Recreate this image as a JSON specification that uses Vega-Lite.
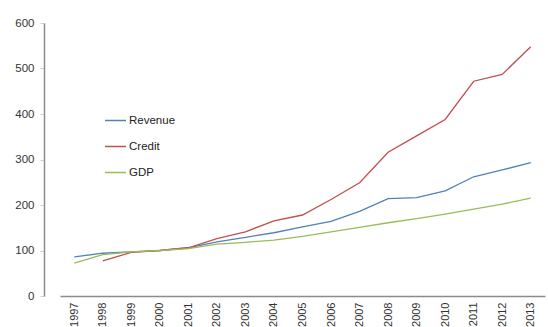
{
  "$schema": "https://vega.github.io/schema/vega-lite/v6.json",
  "width": 504,
  "height": 273,
  "autosize": {"type": "none"},
  "padding": {"left": 44, "top": 23, "right": 0, "bottom": 31},
  "background": "white",
  "config": {
    "view": {"stroke": null},
    "font": "Liberation Sans"
  },
  "data": {
    "values": [
      {"year": "1997", "series": "Revenue", "value": 86},
      {"year": "1998", "series": "Revenue", "value": 94},
      {"year": "1999", "series": "Revenue", "value": 97},
      {"year": "2000", "series": "Revenue", "value": 100},
      {"year": "2001", "series": "Revenue", "value": 106},
      {"year": "2002", "series": "Revenue", "value": 119},
      {"year": "2003", "series": "Revenue", "value": 129},
      {"year": "2004", "series": "Revenue", "value": 139},
      {"year": "2005", "series": "Revenue", "value": 152},
      {"year": "2006", "series": "Revenue", "value": 164},
      {"year": "2007", "series": "Revenue", "value": 186},
      {"year": "2008", "series": "Revenue", "value": 214},
      {"year": "2009", "series": "Revenue", "value": 216},
      {"year": "2010", "series": "Revenue", "value": 231},
      {"year": "2011", "series": "Revenue", "value": 262},
      {"year": "2012", "series": "Revenue", "value": 277},
      {"year": "2013", "series": "Revenue", "value": 293},
      {"year": "1998", "series": "Credit", "value": 77},
      {"year": "1999", "series": "Credit", "value": 96},
      {"year": "2000", "series": "Credit", "value": 100},
      {"year": "2001", "series": "Credit", "value": 106},
      {"year": "2002", "series": "Credit", "value": 126},
      {"year": "2003", "series": "Credit", "value": 141},
      {"year": "2004", "series": "Credit", "value": 165},
      {"year": "2005", "series": "Credit", "value": 178},
      {"year": "2006", "series": "Credit", "value": 212},
      {"year": "2007", "series": "Credit", "value": 249},
      {"year": "2008", "series": "Credit", "value": 316},
      {"year": "2009", "series": "Credit", "value": 352},
      {"year": "2010", "series": "Credit", "value": 388},
      {"year": "2011", "series": "Credit", "value": 472},
      {"year": "2012", "series": "Credit", "value": 487},
      {"year": "2013", "series": "Credit", "value": 548},
      {"year": "1997", "series": "GDP", "value": 72},
      {"year": "1998", "series": "GDP", "value": 91},
      {"year": "1999", "series": "GDP", "value": 97},
      {"year": "2000", "series": "GDP", "value": 100},
      {"year": "2001", "series": "GDP", "value": 104},
      {"year": "2002", "series": "GDP", "value": 114},
      {"year": "2003", "series": "GDP", "value": 118},
      {"year": "2004", "series": "GDP", "value": 123},
      {"year": "2005", "series": "GDP", "value": 131},
      {"year": "2006", "series": "GDP", "value": 141},
      {"year": "2007", "series": "GDP", "value": 151},
      {"year": "2008", "series": "GDP", "value": 161},
      {"year": "2009", "series": "GDP", "value": 170},
      {"year": "2010", "series": "GDP", "value": 180},
      {"year": "2011", "series": "GDP", "value": 191},
      {"year": "2012", "series": "GDP", "value": 202},
      {"year": "2013", "series": "GDP", "value": 215}
    ]
  },
  "mark": {"type": "line", "strokeWidth": 1.3},
  "encoding": {
    "x": {
      "field": "year",
      "type": "ordinal",
      "scale": {"type": "point", "range": [16, 501]},
      "axis": {
        "title": null,
        "labelAngle": -90,
        "ticks": false,
        "tickSize": 0,
        "labelPadding": 6,
        "labelFontSize": 11,
        "labelColor": "#333333",
        "domainColor": "#8c8c8c",
        "domainWidth": 1.5,
        "grid": false
      }
    },
    "y": {
      "field": "value",
      "type": "quantitative",
      "scale": {"domain": [0, 600], "nice": false},
      "axis": {
        "title": null,
        "values": [0, 100, 200, 300, 400, 500, 600],
        "grid": false,
        "tickSize": 4,
        "tickColor": "#d0d0d0",
        "labelPadding": 6,
        "labelFontSize": 11.5,
        "labelColor": "#333333",
        "domainColor": "#8c8c8c",
        "domainWidth": 1.5
      }
    },
    "color": {
      "field": "series",
      "type": "nominal",
      "scale": {
        "domain": ["Revenue", "Credit", "GDP"],
        "range": ["#4F81BD", "#C0504D", "#9BBB59"]
      },
      "legend": {
        "title": null,
        "orient": "none",
        "legendX": 60,
        "legendY": 86,
        "padding": 0,
        "symbolType": "stroke",
        "symbolSize": 441,
        "symbolStrokeWidth": 1.5,
        "rowPadding": 9,
        "labelOffset": 2,
        "labelFontSize": 11.5,
        "labelColor": "#222222"
      }
    }
  }
}
